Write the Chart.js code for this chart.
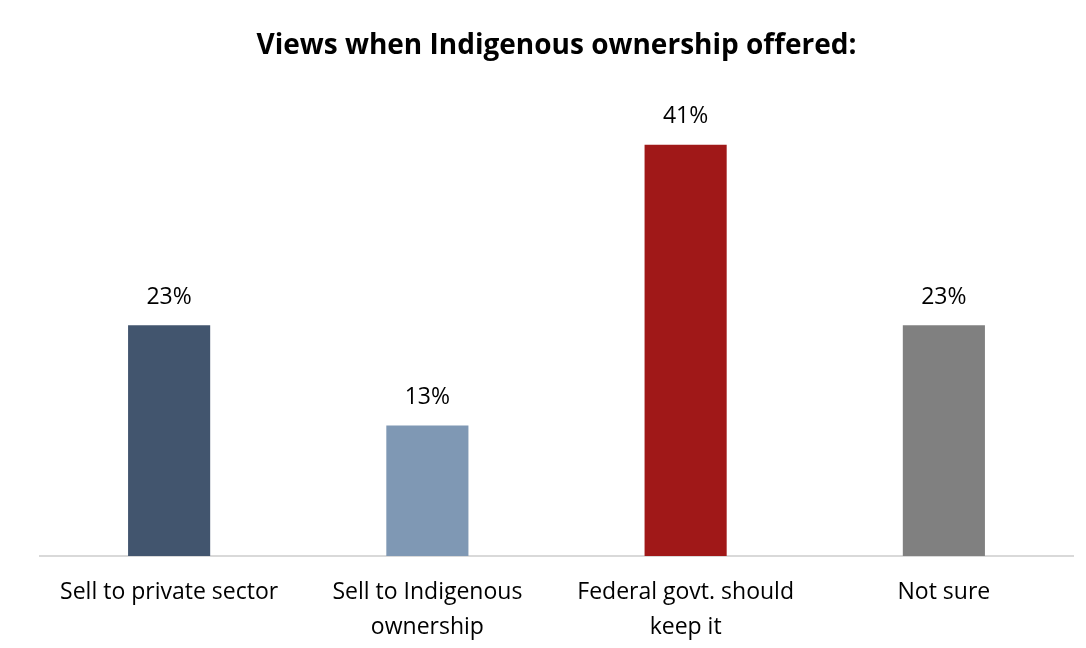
<!DOCTYPE html>
<html>
<head>
<meta charset="utf-8">
<script src="https://cdn.jsdelivr.net/npm/chart.js@4"></script>
<style>
  html, body { margin: 0; padding: 0; background: #fff; overflow: hidden; }
  #wrap { width: 1086px; height: 664px; }
</style>
</head>
<body>
<div id="wrap"><canvas id="bar-chart"></canvas></div>
<script>
const categories = [
  "Sell to private sector",
  ["Sell to Indigenous", "ownership"],
  ["Federal govt. should", "keep it"],
  "Not sure",
];
const values = [23, 13, 41, 23];
const barColors = ["#42556E", "#7F98B4", "#A01818", "#808080"];
const titleText = "Views when Indigenous ownership offered:";

// draws the "23%" labels over each bar
const valueLabels = {
  id: "valueLabels",
  afterDatasetsDraw(chart) {
    const ctx = chart.ctx;
    const meta = chart.getDatasetMeta(0);
    ctx.save();
    ctx.font = "23px 'Open Sans'";
    ctx.fillStyle = "#000";
    ctx.textAlign = "center";
    ctx.textBaseline = "middle";
    meta.data.forEach((bar, i) => {
      ctx.fillText(values[i] + "%", bar.x, bar.y - 28);
    });
    ctx.restore();
  },
};

const data_bar = {
  labels: categories,
  datasets: [
    {
      data: values,
      backgroundColor: barColors,
      barPercentage: 0.318,
      categoryPercentage: 1,
    },
  ],
};

const config_bar = {
  type: "bar",
  data: data_bar,
  options: {
    responsive: true,
    maintainAspectRatio: false,
    animation: false,
    layout: { padding: { left: 40, right: 13, top: 10, bottom: 0 } },
    plugins: {
      legend: { display: false },
      tooltip: { enabled: false },
      title: {
        display: true,
        text: titleText,
        color: "#000",
        font: { family: "Open Sans", size: 28, weight: "bold" },
        padding: { top: 19, bottom: 42 },
      },
    },
    scales: {
      x: {
        grid: { display: false, drawTicks: false },
        border: { color: "#D9D9D9", width: 2 },
        ticks: {
          color: "#000",
          font: { family: "Open Sans", size: 23, lineHeight: 1.48 },
          padding: 20,
          maxRotation: 0,
          autoSkip: false,
        },
      },
      y: {
        display: false,
        min: 0,
        max: 45,
      },
    },
  },
  plugins: [valueLabels],
};

var ctx_bar = document.getElementById("bar-chart").getContext("2d");
var myChart_bar = new Chart(ctx_bar, config_bar);
</script>
</body>
</html>
